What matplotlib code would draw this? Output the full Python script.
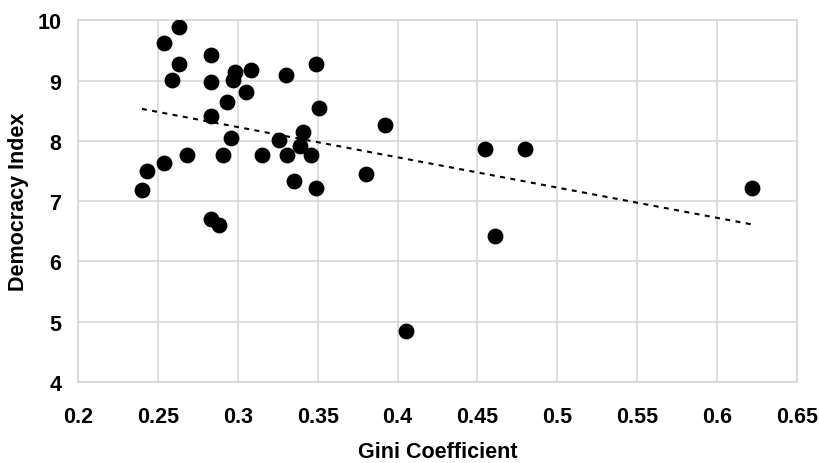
import numpy as np
import matplotlib
matplotlib.use("Agg")
import matplotlib.pyplot as plt

plt.rcParams['font.family'] = ['Liberation Sans', 'DejaVu Sans']

# Gini coefficient vs democracy index
gini = [0.263, 0.254, 0.263, 0.259, 0.283, 0.283, 0.298, 0.297, 0.308, 0.305,
        0.330, 0.349, 0.351, 0.293, 0.283, 0.296, 0.268, 0.254, 0.243, 0.240,
        0.291, 0.315, 0.326, 0.341, 0.339, 0.331, 0.346, 0.335, 0.349, 0.283,
        0.288, 0.380, 0.392, 0.455, 0.480, 0.461, 0.405, 0.622]
democracy = [9.90, 9.62, 9.28, 9.02, 9.43, 8.98, 9.15, 9.01, 9.17, 8.82,
             9.10, 9.28, 8.55, 8.64, 8.42, 8.05, 7.77, 7.64, 7.50, 7.18,
             7.77, 7.77, 8.02, 8.15, 7.91, 7.77, 7.77, 7.33, 7.22, 6.71,
             6.61, 7.45, 8.27, 7.86, 7.86, 6.43, 4.84, 7.22]

x_ticks = [0.2, 0.25, 0.3, 0.35, 0.4, 0.45, 0.5, 0.55, 0.6, 0.65]
y_ticks = [4, 5, 6, 7, 8, 9, 10]

fig = plt.figure(figsize=(8.19, 4.64), dpi=100)
ax = fig.add_axes([0.0952, 0.1746, 0.8779, 0.7791])

ax.scatter(gini, democracy, s=130, color='black', zorder=3, linewidths=0)

# linear trend line over the data range
coef = np.polyfit(gini, democracy, 1)
xs = np.array([min(gini), max(gini)])
ax.plot(xs, np.polyval(coef, xs), color='black', lw=1.5,
        linestyle=(0, (2.4, 2.6)), zorder=2)

ax.set_xlim(0.2, 0.65)
ax.set_ylim(4, 10)
ax.set_xticks(x_ticks)
ax.set_xticklabels([f"{t:g}" for t in x_ticks])
ax.set_yticks(y_ticks)
ax.grid(True, color='#d4d4d4', lw=1.1, zorder=0)
for s in ax.spines.values():
    s.set_color('#d4d4d4')
    s.set_linewidth(1.1)
ax.tick_params(length=0, labelsize=15.5, pad=12)
ax.tick_params(axis='x', pad=17.5)
for lab in ax.get_xticklabels() + ax.get_yticklabels():
    lab.set_fontweight('bold')

ax.set_xlabel('Gini Coefficient', fontsize=15.5, fontweight='bold', labelpad=10)
ax.set_ylabel('Democracy Index', fontsize=15.5, fontweight='bold', labelpad=6)

fig.savefig('out.png', dpi=100)
